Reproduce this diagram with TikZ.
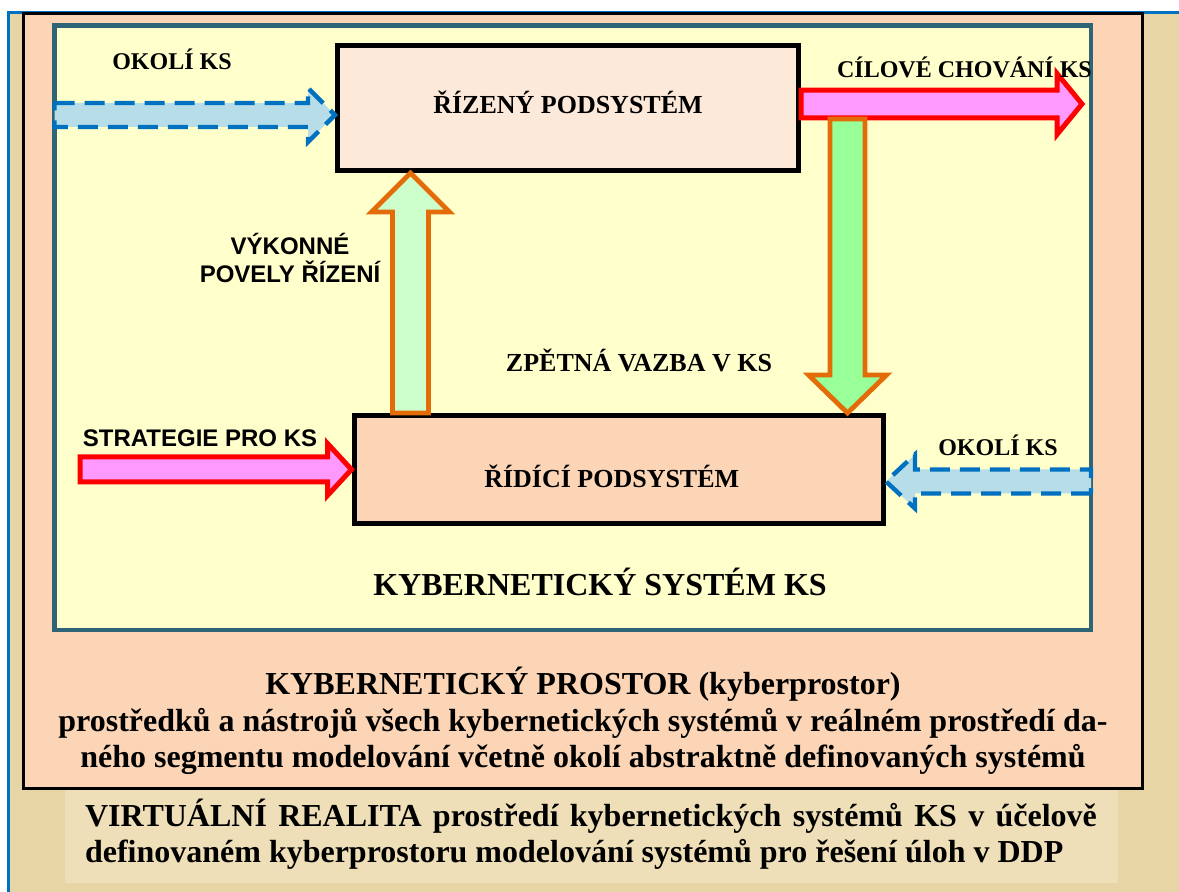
\documentclass[tikz,border=0pt]{standalone}
\usepackage{fontspec}
\setmainfont{Liberation Serif}
\newfontfamily\arialfont{Liberation Sans}
\usetikzlibrary{calc}
\definecolor{parchment}{HTML}{E8D5A5}
\definecolor{lightparch}{HTML}{EEDFB8}
\definecolor{pageblue}{HTML}{0070C0}
\definecolor{salmon}{HTML}{FBD5B5}
\definecolor{ksyellow}{HTML}{FFFFCC}
\definecolor{ksborder}{HTML}{2E6475}
\definecolor{peach}{HTML}{FDE9D9}
\definecolor{envblue}{HTML}{B7DDE8}
\definecolor{strpink}{HTML}{FF99FF}
\definecolor{fbgreen}{HTML}{99FF99}
\definecolor{cmdgreen}{HTML}{CCFFCC}
\definecolor{fborange}{HTML}{E36C09}

% fat block arrow: style, from, to, shaft half width, head half width, head length
\newcommand{\fatarrow}[6]{%
  \coordinate (fa-neck) at ($(#3)!#6!(#2)$);
  \draw[#1] ($(#2)!#4!90:(#3)$) -- ($(fa-neck)!#4!-90:(#2)$)
    -- ($(fa-neck)!#5!-90:(#2)$) -- (#3)
    -- ($(fa-neck)!#5!90:(#2)$) -- ($(fa-neck)!#4!90:(#2)$)
    -- ($(#2)!#4!-90:(#3)$) -- cycle;
}

\begin{document}
\begin{tikzpicture}[x=0.5pt, y=-0.5pt,
    frame/.style={rectangle, draw, inner sep=0pt},
    subsys/.style={rectangle, draw, line width=2.5pt, inner sep=0pt, font=\fontsize{13}{15}\selectfont\bfseries},
    lbl/.style={anchor=base, inner sep=0pt, font=\fontsize{12}{14}\selectfont\bfseries},
    sanslbl/.style={inner sep=0pt, font=\arialfont\fontsize{12}{14}\selectfont\bfseries},
    envarrow/.style={fill=envblue, draw=pageblue, line width=2.2pt, dash pattern=on 10pt off 5pt},
    pinkarrow/.style={fill=strpink, draw=red, line width=2.5pt, miter limit=4},
    greenarrow/.style={draw=fborange, line width=2.4pt}
]
    \useasboundingbox (0,0) rectangle (1179,892);
    % Page
    \fill[white] (0,0) rectangle (1179,892);
    \fill[parchment] (7,11) rectangle (1179,892);
    \draw[pageblue, line width=1.5pt] (8.5,892) -- (8.5,12.5) -- (1179,12.5);
    \fill[lightparch] (65,790) rectangle (1118,883);

    % Nodes
    \node[frame, fill=salmon, line width=1.5pt, minimum width=559.5pt, minimum height=387.5pt] (prostor) at (583,401) {};
    \node[frame, fill=ksyellow, draw=ksborder, line width=2.4pt, minimum width=518.25pt, minimum height=302.25pt] (ks) at (572.75,327.75) {};
    \node[subsys, fill=peach, text depth=6pt, minimum width=230.5pt, minimum height=62.5pt] (rizeny) at (568,108) {ŘÍZENÝ PODSYSTÉM};
    \node[subsys, fill=salmon, text height=17.5pt, minimum width=264.75pt, minimum height=54.25pt] (ridici) at (618.75,469.75) {\kern-7pt ŘÍDÍCÍ PODSYSTÉM};

    \coordinate (okoliL) at (54.5,115);
    \coordinate (okoliR) at (1091,481.5);
    \coordinate (cilEnd) at (1082,104);
    \coordinate (strStart) at (80,469.5);
    \coordinate (zpStart) at (847.5,119);
    \coordinate (vykX) at (410.5,0);

    % Relations
    \fatarrow{envarrow}{okoliL}{rizeny.west |- okoliL}{6pt}{13.5pt}{13.5pt}
    \fatarrow{envarrow}{okoliR}{ridici.east |- okoliR}{6pt}{13.5pt}{14.5pt}
    \fatarrow{pinkarrow}{rizeny.east |- cilEnd}{cilEnd}{6.9pt}{15.25pt}{12.5pt}
    \fatarrow{pinkarrow}{strStart}{ridici.west |- strStart}{6.25pt}{13pt}{12pt}
    \fatarrow{greenarrow, fill=fbgreen}{zpStart}{ridici.north -| zpStart}{8.75pt}{19.5pt}{19pt}
    \fatarrow{greenarrow, fill=cmdgreen}{ridici.north -| vykX}{rizeny.south -| vykX}{9pt}{19.5pt}{19.5pt}

    % Labels
    \node[lbl] (okoliTL) at (172,70) {OKOLÍ KS};
    \node[lbl] (cil) at (964.5,78) {CÍLOVÉ CHOVÁNÍ KS};
    \node[sanslbl, align=center] (vykonne) at (290,258) {VÝKONNÉ\\POVELY ŘÍZENÍ};
    \node[lbl, font=\fontsize{13}{15}\selectfont\bfseries] (zpetna) at (639,372) {ZPĚTNÁ VAZBA V KS};
    \node[sanslbl, anchor=base] (strategie) at (200,447) {STRATEGIE PRO KS};
    \node[lbl] (okoliBR) at (998,456) {OKOLÍ KS};
    \node[lbl, font=\fontsize{16}{18}\selectfont\bfseries] (kstitle) at (600,596) {KYBERNETICKÝ SYSTÉM KS};
    \node[inner sep=0pt, align=center, font=\fontsize{16}{18.25}\selectfont\bfseries] (prostortxt) at (583,721)
      {KYBERNETICKÝ PROSTOR (kyberprostor)\\
       prostředků a nástrojů všech kybernetických systémů v reálném prostředí da-\\
       ného segmentu modelování včetně okolí abstraktně definovaných systémů};
    \node[inner sep=0pt, text width=506pt, align=justify, font=\fontsize{16}{18}\selectfont\bfseries] (vrtxt) at (591,834)
      {VIRTUÁLNÍ REALITA prostředí kybernetických systémů KS v účelově\linebreak
       definovaném kyberprostoru modelování systémů pro řešení úloh v DDP};
\end{tikzpicture}
\end{document}
